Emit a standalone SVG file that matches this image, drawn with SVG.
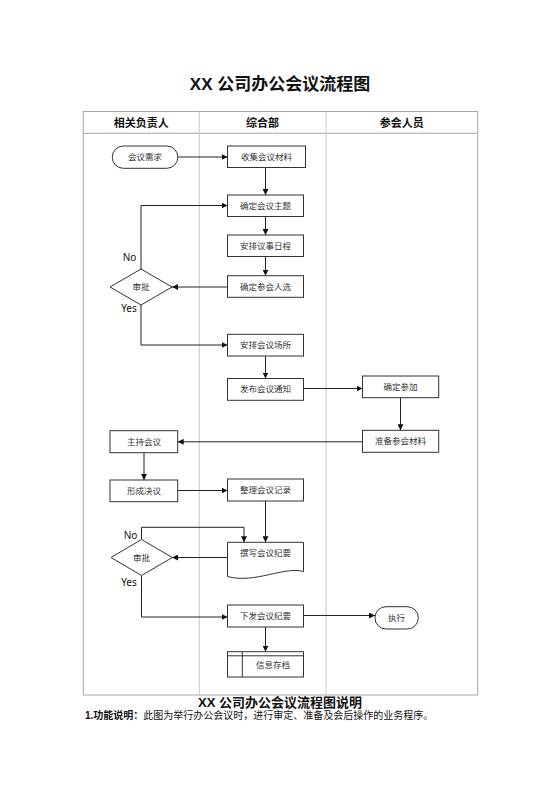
<svg xmlns="http://www.w3.org/2000/svg" width="560" height="792" viewBox="0 0 560 792">
<style>
.bg{fill:#fff}
.frame{fill:none;stroke:#a6a6a6;stroke-width:1}
.div{fill:none;stroke:#c8c8c8;stroke-width:1}
.box{fill:#fff;stroke:#333;stroke-width:1}
.t{font-family:"Liberation Sans","Noto Sans CJK SC",sans-serif;font-size:8.5px;fill:#333;text-anchor:middle}
.h{font-family:"Liberation Sans","Noto Sans CJK SC",sans-serif;font-size:11px;font-weight:bold;fill:#111;text-anchor:middle}
.yn{font-family:"Noto Sans","Open Sans",sans-serif;font-size:10px;fill:#111;text-anchor:middle}
.c{fill:none;stroke:#222;stroke-width:1}
</style>
<defs>
<marker id="ah" viewBox="0 0 6 6" refX="6" refY="3" markerWidth="6" markerHeight="6" markerUnits="userSpaceOnUse" orient="auto">
<path d="M0,0 L6,3 L0,6 Z" fill="#111"/>
</marker>
</defs>
<rect class="bg" x="0" y="0" width="560" height="792"/>
<text x="280" y="90" font-family="Liberation Sans,'Noto Sans CJK SC',sans-serif" font-size="17" font-weight="bold" fill="#111" text-anchor="middle">XX 公司办公会议流程图</text>
<g id="table">
<rect class="frame" x="83.3" y="111.5" width="394.4" height="583.5"/>
<line class="frame" x1="83.3" y1="133.3" x2="477.7" y2="133.3"/>
<line class="div" x1="199.3" y1="111.5" x2="199.3" y2="695"/>
<line class="div" x1="326" y1="111.5" x2="326" y2="695"/>
<text class="h" x="141.3" y="126.5">相关负责人</text>
<text class="h" x="262.6" y="126.5">综合部</text>
<text class="h" x="401.8" y="126.5">参会人员</text>
</g>
<g id="connectors">
<path class="c" d="M178,157 H227.5" marker-end="url(#ah)"/>
<path class="c" d="M265.5,167.5 V195" marker-end="url(#ah)"/>
<path class="c" d="M265.5,216.5 V235" marker-end="url(#ah)"/>
<path class="c" d="M265.5,256.5 V275.7" marker-end="url(#ah)"/>
<path class="c" d="M227.5,287 H172" marker-end="url(#ah)"/>
<path class="c" d="M141,269 V205.5 H227.5" marker-end="url(#ah)"/>
<path class="c" d="M141,305 V345 H227.5" marker-end="url(#ah)"/>
<path class="c" d="M265.5,356 V378.5" marker-end="url(#ah)"/>
<path class="c" d="M303.5,388.5 H362.5" marker-end="url(#ah)"/>
<path class="c" d="M400.5,397.7 V430.3" marker-end="url(#ah)"/>
<path class="c" d="M362.5,441.8 H177.7" marker-end="url(#ah)"/>
<path class="c" d="M144,452.7 V480" marker-end="url(#ah)"/>
<path class="c" d="M177.7,490.5 H227.5" marker-end="url(#ah)"/>
<path class="c" d="M265.5,501 V542.3" marker-end="url(#ah)"/>
<path class="c" d="M141.5,539.5 V527.3 H244 V542.3" marker-end="url(#ah)"/>
<path class="c" d="M227.5,557.5 H172" marker-end="url(#ah)"/>
<path class="c" d="M141.5,575.5 V617 H227.5" marker-end="url(#ah)"/>
<path class="c" d="M303.5,615.5 H375" marker-end="url(#ah)"/>
<path class="c" d="M265.5,627 V651.7" marker-end="url(#ah)"/>
<text class="yn" x="129.5" y="261">No</text>
<text class="yn" x="129" y="312">Yes</text>
<text class="yn" x="130.5" y="539">No</text>
<text class="yn" x="129" y="585.5">Yes</text>
</g>
<g id="n1"><rect class="box" x="112.3" y="146" width="65.5" height="22.3" rx="11" ry="11"/><text class="t" x="145" y="160.2">会议需求</text></g>
<g id="n2"><rect class="box" x="227.5" y="146" width="78" height="21.5"/><text class="t" x="266.5" y="159.8">收集会议材料</text></g>
<g id="n3"><rect class="box" x="227.5" y="195" width="76" height="21.5"/><text class="t" x="265.5" y="208.8">确定会议主题</text></g>
<g id="n4"><rect class="box" x="227.5" y="235" width="76" height="21.5"/><text class="t" x="265.5" y="248.8">安排议事日程</text></g>
<g id="n5"><rect class="box" x="227.5" y="275.7" width="76" height="21.6"/><text class="t" x="265.5" y="289.5">确定参会人选</text></g>
<g id="d1"><path class="box" d="M110,287 L141,269 L172,287 L141,305 Z"/><text class="t" x="141" y="290">审批</text></g>
<g id="n6"><rect class="box" x="227.5" y="334.3" width="76" height="21.7"/><text class="t" x="265.5" y="348.2">安排会议场所</text></g>
<g id="n7"><rect class="box" x="227.5" y="378.5" width="76" height="21.8"/><text class="t" x="265.5" y="392.4">发布会议通知</text></g>
<g id="n8"><rect class="box" x="362.5" y="376" width="76.2" height="21.7"/><text class="t" x="400.6" y="389.8">确定参加</text></g>
<g id="n9"><rect class="box" x="362.5" y="430.3" width="76.2" height="22"/><text class="t" x="400.6" y="444.3">准备参会材料</text></g>
<g id="n10"><rect class="box" x="110" y="430.7" width="67.7" height="22"/><text class="t" x="143.9" y="444.7">主持会议</text></g>
<g id="n11"><rect class="box" x="110" y="480" width="67.7" height="21.7"/><text class="t" x="143.9" y="493.9">形成决议</text></g>
<g id="n12"><rect class="box" x="227.5" y="479" width="76" height="22"/><text class="t" x="265.5" y="493">整理会议记录</text></g>
<g id="n13"><path class="box" d="M227.5,542.3 H303.5 V571.5 C284,566 255,584 227.5,576.5 Z"/><text class="t" x="265.5" y="556">撰写会议纪要</text></g>
<g id="d2"><path class="box" d="M111,557.5 L141.5,539.5 L172.3,557.5 L141.5,575.5 Z"/><text class="t" x="141.5" y="560.5">审批</text></g>
<g id="n14"><rect class="box" x="227.5" y="605" width="76" height="22"/><text class="t" x="265.5" y="619">下发会议纪要</text></g>
<g id="n15"><rect class="box" x="375" y="606.7" width="43.3" height="22.3" rx="11" ry="11"/><text class="t" x="396.6" y="620.9">执行</text></g>
<g id="n16"><rect class="box" x="227.5" y="651.7" width="76" height="25.3"/><line class="box" x1="227.5" y1="655.8" x2="303.5" y2="655.8"/><line class="box" x1="242.3" y1="651.7" x2="242.3" y2="677"/><text class="t" x="272.9" y="668.3">信息存档</text></g>
<text x="280" y="707" font-family="Liberation Sans,'Noto Sans CJK SC',sans-serif" font-size="13" font-weight="bold" fill="#111" text-anchor="middle">XX 公司办公会议流程图说明</text>
<text x="85" y="719" font-family="Liberation Sans,'Noto Sans CJK SC',sans-serif" font-size="10" fill="#111"><tspan font-weight="bold">1.功能说明：</tspan>此图为举行办公会议时，进行审定、准备及会后操作的业务程序。</text>
</svg>
